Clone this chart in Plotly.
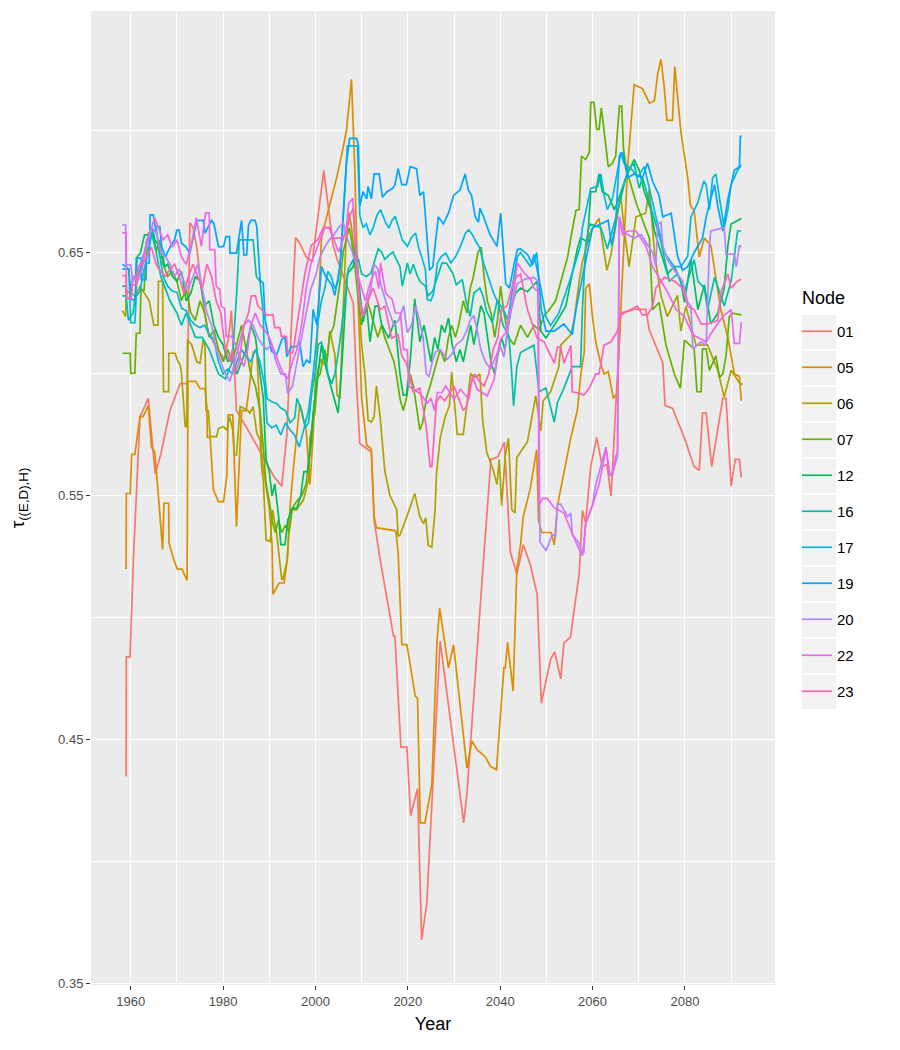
import plotly.graph_objects as go

node_names = ["01", "05", "06", "07", "12", "16", "17", "19", "20", "22", "23"]
node_colors = ["#F8766D", "#DB8E00", "#AEA200", "#64B200", "#00BD5C", "#00C1A7",
               "#00BADE", "#00A6FF", "#B385FF", "#EF67EB", "#FF63B6"]

node_01 = [(1959.0,0.435),(1959.05,0.484),(1959.85,0.484),(1960.6,0.525),(1962.0,0.5825),(1962.6,0.585),(1963.8,0.590),(1965.3,0.559),(1966.5,0.567),(1968.5,0.585),(1970.7,0.596),(1972.3,0.596),(1972.8,0.662),(1973.5,0.660),(1974.3,0.652),(1975.0,0.640),(1976.0,0.625),(1976.8,0.617),(1978.5,0.611),(1980.3,0.606),(1981.2,0.615),(1981.8,0.626),(1982.9,0.585),(1986.0,0.575),(1989.0,0.565),(1991.0,0.558),(1992.7,0.554),(1993.8,0.575),(1994.8,0.620),(1995.7,0.656),(1996.6,0.6535),(1998.0,0.648),(1999.3,0.646),(2000.5,0.665),(2001.8,0.6835),(2003.0,0.665),(2003.8,0.653),(2004.7,0.647),(2006.5,0.638),(2008.2,0.629),(2008.9,0.5957),(2009.6,0.5715),(2012.1,0.568),(2012.7,0.540),(2014.0,0.524),(2016.9,0.4925),(2017.2,0.4925),(2018.5,0.447),(2019.8,0.447),(2020.6,0.419),(2022.1,0.430),(2023.0,0.368),(2024.1,0.383),(2027.0,0.4905),(2032.1,0.416),(2032.8,0.428),(2036.4,0.524),(2038.0,0.565),(2039.5,0.566),(2040.9,0.572),(2042.2,0.527),(2043.6,0.518),(2045.0,0.530),(2046.5,0.522),(2048.0,0.5096),(2048.9,0.465),(2050.9,0.483),(2051.8,0.486),(2053.1,0.475),(2053.8,0.4898),(2055.2,0.492),(2056.0,0.503),(2057.1,0.518),(2057.8,0.544),(2058.5,0.539),(2059.6,0.562),(2060.9,0.574),(2062.1,0.562),(2063.1,0.563),(2064.0,0.550),(2066.1,0.625),(2069.0,0.6265),(2071.5,0.6265),(2072.3,0.618),(2075.2,0.6045),(2075.7,0.587),(2077.3,0.586),(2079.9,0.5737),(2082.0,0.562),(2083.1,0.5605),(2083.8,0.584),(2084.6,0.584),(2085.8,0.562),(2088.2,0.590),(2088.9,0.590),(2090.0,0.554),(2090.9,0.565),(2091.8,0.565),(2092.2,0.5576)]

node_05 = [(1959.0,0.520),(1959.05,0.551),(1959.9,0.551),(1960.2,0.567),(1960.9,0.567),(1962.0,0.5825),(1962.7,0.5825),(1963.8,0.587),(1964.5,0.570),(1965.2,0.568),(1966.0,0.55),(1966.9,0.528),(1967.2,0.547),(1968.2,0.547),(1968.3,0.5306),(1969.3,0.524),(1970.1,0.520),(1971.1,0.520),(1972.2,0.5154),(1972.4,0.597),(1974.1,0.597),(1975.0,0.594),(1976.1,0.594),(1976.5,0.586),(1976.6,0.574),(1977.2,0.574),(1977.9,0.5525),(1979.0,0.5477),(1980.1,0.5477),(1980.8,0.558),(1981.1,0.5832),(1982.1,0.5832),(1982.9,0.5374),(1983.3,0.554),(1984.0,0.585),(1985.0,0.585),(1985.7,0.595),(1986.5,0.609),(1987.3,0.609),(1987.8,0.59),(1988.4,0.565),(1989.2,0.555),(1990.0,0.545),(1990.6,0.530),(1990.8,0.5096),(1992.1,0.5143),(1993.2,0.5143),(1993.9,0.524),(1994.5,0.5456),(1995.2,0.5607),(1996.0,0.578),(1996.6,0.5876),(1998.0,0.5766),(1998.8,0.5547),(1999.5,0.575),(2000.6,0.626),(2001.3,0.6557),(2002.5,0.665),(2003.5,0.672),(2004.6,0.6805),(2005.7,0.69),(2006.7,0.6996),(2007.8,0.7208),(2008.5,0.685),(2009.3,0.6264),(2010.0,0.590),(2011.1,0.5708),(2012.1,0.5693),(2012.7,0.5415),(2013.2,0.537),(2017.4,0.5357),(2017.9,0.527),(2018.7,0.489),(2019.8,0.489),(2021.6,0.468),(2022.1,0.467),(2022.7,0.416),(2023.7,0.416),(2025.2,0.4317),(2026.3,0.4898),(2026.9,0.504),(2028.8,0.4795),(2029.9,0.489),(2032.8,0.4385),(2033.9,0.4495),(2035.0,0.446),(2036.8,0.443),(2037.9,0.439),(2039.2,0.4378),(2040.8,0.4795),(2041.1,0.4795),(2041.6,0.490),(2042.8,0.470),(2043.6,0.5198),(2044.4,0.530),(2045.0,0.5415),(2046.5,0.553),(2047.9,0.569),(2048.3,0.540),(2049.0,0.535),(2051.0,0.535),(2051.7,0.530),(2052.4,0.546),(2053.7,0.559),(2055.3,0.574),(2056.7,0.585),(2057.5,0.6005),(2058.2,0.609),(2058.5,0.635),(2059.3,0.637),(2060.0,0.623),(2060.7,0.613),(2061.8,0.604),(2062.5,0.600),(2063.4,0.601),(2064.5,0.590),(2065.3,0.592),(2066.1,0.626),(2066.8,0.656),(2067.6,0.685),(2069.0,0.7186),(2070.8,0.717),(2072.3,0.711),(2073.4,0.712),(2074.1,0.723),(2074.8,0.729),(2075.5,0.718),(2076.1,0.704),(2077.3,0.704),(2077.8,0.726),(2079.1,0.6996),(2080.6,0.6805),(2081.2,0.669),(2082.0,0.667),(2083.1,0.648),(2084.2,0.6557),(2085.6,0.6527),(2087.8,0.626),(2089.3,0.615),(2090.7,0.600),(2091.8,0.599),(2092.2,0.589)]

node_06 = [(1958.2,0.626),(1958.9,0.6235),(1959.0,0.634),(1960.0,0.633),(1961.0,0.632),(1962.0,0.636),(1963.0,0.633),(1964.0,0.630),(1965.0,0.620),(1965.9,0.620),(1966.0,0.638),(1966.9,0.638),(1967.1,0.5928),(1968.2,0.5928),(1968.25,0.6085),(1969.6,0.6085),(1970.1,0.6057),(1970.7,0.6037),(1971.0,0.6003),(1971.8,0.5784),(1972.1,0.5784),(1972.3,0.614),(1973.2,0.612),(1974.3,0.605),(1975.0,0.6044),(1975.7,0.614),(1976.1,0.611),(1976.3,0.585),(1976.8,0.585),(1977.2,0.5743),(1978.6,0.5743),(1979.0,0.5777),(1980.1,0.5784),(1980.8,0.577),(1981.4,0.5825),(1982.1,0.577),(1982.4,0.5668),(1982.9,0.5668),(1983.7,0.5866),(1985.3,0.5852),(1985.8,0.5839),(1986.5,0.5866),(1987.3,0.5757),(1988.0,0.573),(1988.4,0.5607),(1988.7,0.5566),(1989.3,0.532),(1990.2,0.5313),(1990.7,0.5443),(1991.6,0.5347),(1992.7,0.5156),(1993.0,0.5163),(1993.9,0.524),(1994.5,0.5443),(1995.9,0.5443),(1996.6,0.546),(1997.4,0.5484),(1998.5,0.5566),(1998.8,0.5737),(1999.9,0.584),(2000.6,0.6015),(2001.1,0.606),(2002.4,0.603),(2003.1,0.6176),(2004.2,0.608),(2004.7,0.5913),(2005.3,0.590),(2006.0,0.6264),(2006.7,0.6586),(2007.3,0.666),(2007.8,0.660),(2008.5,0.6483),(2009.3,0.6337),(2010.0,0.6118),(2010.7,0.600),(2011.4,0.581),(2012.1,0.5803),(2012.7,0.5825),(2013.2,0.595),(2014.0,0.5825),(2015.0,0.5605),(2016.1,0.5503),(2017.6,0.5444),(2017.9,0.5335),(2018.3,0.534),(2019.5,0.540),(2020.5,0.546),(2021.5,0.551),(2022.6,0.5415),(2023.4,0.5386),(2023.9,0.541),(2024.4,0.5298),(2025.2,0.529),(2025.9,0.5444),(2026.2,0.559),(2027.0,0.5737),(2028.1,0.5825),(2029.0,0.5869),(2029.5,0.6008),(2030.2,0.5869),(2030.7,0.5752),(2032.0,0.5752),(2032.8,0.5883),(2033.6,0.600),(2034.8,0.5986),(2035.6,0.600),(2036.2,0.581),(2037.1,0.5678),(2038.5,0.5605),(2039.3,0.5547),(2039.8,0.565),(2040.3,0.546),(2041.1,0.5664),(2041.8,0.5737),(2042.5,0.5444),(2043.2,0.543),(2043.6,0.5657),(2044.7,0.5686),(2045.9,0.5722),(2047.7,0.591),(2048.8,0.5766),(2049.3,0.589),(2050.9,0.5927),(2052.7,0.603),(2053.1,0.6118),(2055.3,0.6161),(2056.0,0.622),(2057.1,0.638),(2057.8,0.646),(2059.6,0.6586),(2061.4,0.6637),(2062.5,0.6498),(2063.1,0.6425),(2064.0,0.649),(2065.4,0.6644),(2066.1,0.6732),(2066.8,0.660),(2067.9,0.644),(2069.4,0.6644),(2071.5,0.6659),(2072.3,0.676),(2073.4,0.6498),(2074.8,0.6322),(2076.2,0.6235),(2078.4,0.6322),(2079.1,0.6176),(2080.2,0.6278),(2082.4,0.6118),(2084.9,0.6118),(2087.1,0.6015),(2088.5,0.5905),(2090.0,0.6015),(2091.8,0.5964),(2092.5,0.5957)]

node_07 = [(1958.2,0.6085),(1959.9,0.6085),(1960.0,0.6003),(1960.9,0.6003),(1961.2,0.6167),(1962.0,0.6167),(1962.2,0.6344),(1962.9,0.6344),(1963.1,0.642),(1963.8,0.6577),(1964.9,0.6577),(1965.5,0.650),(1966.2,0.655),(1967.0,0.645),(1968.0,0.640),(1969.0,0.642),(1970.0,0.638),(1971.0,0.630),(1972.0,0.635),(1973.0,0.625),(1974.0,0.622),(1975.0,0.630),(1976.0,0.625),(1977.0,0.615),(1978.0,0.618),(1979.0,0.610),(1980.0,0.605),(1981.0,0.610),(1982.0,0.605),(1983.0,0.612),(1984.0,0.620),(1985.0,0.610),(1986.0,0.600),(1987.0,0.595),(1988.0,0.585),(1988.7,0.570),(1989.3,0.555),(1990.0,0.548),(1990.6,0.540),(1991.3,0.535),(1992.0,0.540),(1992.7,0.535),(1993.5,0.538),(1994.3,0.535),(1995.0,0.545),(1996.0,0.548),(1997.0,0.550),(1998.0,0.555),(1998.8,0.570),(1999.5,0.585),(2000.3,0.598),(2001.0,0.600),(2002.0,0.610),(2002.5,0.605),(2003.0,0.615),(2004.0,0.620),(2004.7,0.630),(2005.5,0.640),(2006.0,0.650),(2006.7,0.655),(2007.3,0.660),(2007.8,0.655),(2008.5,0.645),(2009.3,0.630),(2010.0,0.620),(2010.5,0.625),(2011.2,0.630),(2012.0,0.625),(2012.7,0.620),(2013.5,0.615),(2014.3,0.620),(2015.0,0.615),(2016.0,0.610),(2017.0,0.605),(2017.5,0.600),(2018.3,0.590),(2019.0,0.585),(2019.7,0.590),(2020.5,0.600),(2021.2,0.595),(2022.0,0.585),(2022.6,0.577),(2023.2,0.580),(2024.0,0.590),(2024.8,0.595),(2025.5,0.600),(2026.3,0.605),(2027.0,0.610),(2028.0,0.605),(2028.8,0.615),(2029.5,0.620),(2030.3,0.615),(2031.0,0.620),(2032.0,0.630),(2032.8,0.625),(2033.5,0.635),(2034.2,0.640),(2035.2,0.650),(2035.9,0.652),(2036.5,0.640),(2037.2,0.630),(2038.0,0.625),(2038.8,0.615),(2039.4,0.622),(2040.1,0.636),(2040.8,0.625),(2041.8,0.615),(2043.0,0.612),(2044.4,0.620),(2045.9,0.615),(2047.3,0.620),(2048.4,0.618),(2049.5,0.624),(2050.5,0.626),(2052.0,0.630),(2053.1,0.638),(2054.6,0.648),(2055.5,0.658),(2056.4,0.667),(2057.1,0.6674),(2057.6,0.6893),(2058.5,0.6879),(2059.3,0.6908),(2059.6,0.7113),(2060.3,0.7113),(2060.9,0.7003),(2061.4,0.7003),(2061.9,0.7091),(2062.5,0.6996),(2063.4,0.6849),(2064.3,0.6864),(2065.0,0.6893),(2065.8,0.7098),(2066.3,0.7098),(2066.7,0.6922),(2067.4,0.6835),(2069.4,0.6703),(2071.0,0.662),(2072.3,0.6557),(2073.0,0.6264),(2074.4,0.6293),(2075.9,0.6118),(2077.7,0.600),(2079.0,0.5942),(2079.5,0.6059),(2079.9,0.6139),(2082.0,0.6103),(2082.6,0.5927),(2083.5,0.5927),(2083.8,0.6103),(2084.6,0.6103),(2085.3,0.6015),(2086.7,0.6074),(2087.5,0.5986),(2088.2,0.600),(2088.9,0.6074),(2089.6,0.6235),(2090.3,0.6249),(2092.2,0.6242)]

node_12 = [(1958.2,0.636),(1959.0,0.636),(1959.1,0.631),(1960.1,0.631),(1960.4,0.640),(1961.1,0.640),(1961.4,0.648),(1962.1,0.6496),(1962.5,0.653),(1963.0,0.657),(1964.1,0.657),(1964.3,0.659),(1964.8,0.659),(1965.2,0.655),(1966.0,0.653),(1966.3,0.648),(1967.0,0.648),(1967.3,0.644),(1968.0,0.645),(1969.0,0.640),(1970.0,0.638),(1971.0,0.642),(1972.0,0.630),(1973.0,0.633),(1974.0,0.640),(1975.0,0.638),(1976.0,0.628),(1977.0,0.630),(1978.0,0.620),(1979.0,0.615),(1980.0,0.612),(1981.0,0.605),(1982.0,0.608),(1983.0,0.600),(1984.0,0.605),(1985.0,0.610),(1986.0,0.620),(1987.0,0.615),(1988.0,0.600),(1988.7,0.590),(1989.3,0.565),(1990.0,0.560),(1990.6,0.550),(1991.2,0.555),(1992.0,0.542),(1992.5,0.530),(1993.4,0.530),(1994.0,0.540),(1995.0,0.545),(1996.0,0.545),(1996.8,0.550),(1997.5,0.560),(1998.3,0.560),(1999.0,0.570),(1999.5,0.584),(2000.6,0.600),(2001.3,0.6118),(2002.4,0.6015),(2003.5,0.5942),(2004.9,0.584),(2005.6,0.600),(2006.4,0.6264),(2006.9,0.641),(2008.2,0.644),(2008.7,0.6542),(2009.3,0.6396),(2010.0,0.6264),(2010.3,0.6213),(2011.1,0.6278),(2011.8,0.6132),(2012.9,0.6278),(2013.6,0.6278),(2014.3,0.6205),(2015.8,0.6147),(2017.2,0.622),(2018.3,0.600),(2019.0,0.5913),(2019.7,0.5913),(2020.5,0.605),(2021.5,0.6308),(2022.6,0.6132),(2023.5,0.620),(2024.3,0.612),(2025.0,0.605),(2025.8,0.615),(2026.5,0.610),(2027.3,0.620),(2028.0,0.617),(2028.8,0.623),(2029.6,0.612),(2030.5,0.605),(2031.3,0.610),(2032.0,0.605),(2032.8,0.612),(2033.6,0.620),(2034.3,0.612),(2035.0,0.620),(2035.8,0.628),(2036.5,0.625),(2037.2,0.615),(2038.0,0.605),(2038.8,0.600),(2039.5,0.608),(2040.3,0.615),(2041.0,0.610),(2041.8,0.620),(2042.5,0.628),(2043.3,0.633),(2044.4,0.6352),(2045.9,0.6337),(2048.0,0.638),(2048.8,0.6176),(2049.9,0.6147),(2052.4,0.622),(2054.2,0.6278),(2055.6,0.641),(2056.7,0.6513),(2057.4,0.6557),(2058.9,0.6542),(2059.6,0.6747),(2060.7,0.6747),(2061.4,0.682),(2062.1,0.6747),(2063.4,0.6732),(2064.7,0.6674),(2065.4,0.6703),(2067.2,0.6805),(2068.3,0.685),(2069.0,0.6879),(2070.1,0.6835),(2071.2,0.6747),(2072.6,0.6674),(2073.4,0.6586),(2074.8,0.6498),(2076.2,0.641),(2077.7,0.644),(2079.1,0.638),(2079.9,0.6293),(2081.3,0.6469),(2082.8,0.6264),(2084.2,0.6366),(2085.6,0.6205),(2087.1,0.6249),(2088.5,0.6352),(2089.3,0.6527),(2090.0,0.6615),(2091.4,0.663),(2092.2,0.6637)]

node_16 = [(1958.2,0.632),(1959.0,0.632),(1959.5,0.622),(1960.5,0.625),(1961.5,0.640),(1962.5,0.645),(1963.5,0.655),(1964.5,0.658),(1965.5,0.650),(1966.5,0.640),(1967.5,0.635),(1968.5,0.630),(1970.0,0.625),(1971.0,0.620),(1972.0,0.625),(1973.0,0.620),(1974.0,0.615),(1975.5,0.615),(1977.0,0.610),(1978.0,0.605),(1979.0,0.600),(1980.5,0.598),(1982.0,0.605),(1983.0,0.635),(1983.5,0.655),(1985.5,0.655),(1986.5,0.655),(1987.2,0.640),(1988.0,0.638),(1988.7,0.625),(1989.0,0.600),(1989.5,0.590),(1990.5,0.5886),(1991.5,0.588),(1992.5,0.586),(1993.5,0.585),(1994.5,0.580),(1995.5,0.582),(1996.0,0.590),(1997.0,0.585),(1997.8,0.578),(1998.5,0.580),(1999.2,0.592),(1999.9,0.600),(2000.6,0.612),(2001.3,0.613),(2002.0,0.608),(2002.7,0.600),(2003.5,0.596),(2004.2,0.600),(2004.9,0.608),(2005.6,0.618),(2006.4,0.632),(2007.1,0.643),(2008.2,0.647),(2009.3,0.647),(2010.0,0.641),(2011.0,0.640),(2012.0,0.6413),(2012.9,0.647),(2013.6,0.6513),(2014.3,0.650),(2015.0,0.647),(2016.1,0.649),(2016.8,0.650),(2017.5,0.647),(2018.3,0.644),(2018.8,0.636),(2019.9,0.6455),(2020.5,0.641),(2021.2,0.645),(2021.9,0.641),(2022.6,0.638),(2023.8,0.636),(2024.4,0.632),(2025.4,0.634),(2026.1,0.638),(2027.4,0.6455),(2028.4,0.6454),(2029.8,0.641),(2030.5,0.6366),(2031.8,0.6387),(2032.6,0.630),(2033.5,0.6235),(2034.3,0.6332),(2035.6,0.6352),(2036.3,0.632),(2037.0,0.626),(2038.3,0.621),(2039.4,0.6305),(2040.6,0.620),(2041.9,0.6155),(2042.5,0.600),(2042.9,0.5869),(2043.6,0.603),(2044.4,0.6088),(2047.3,0.6118),(2048.4,0.5927),(2049.9,0.5942),(2051.3,0.584),(2051.7,0.5803),(2052.4,0.5883),(2053.8,0.5942),(2055.6,0.603),(2057.4,0.603),(2057.8,0.6264),(2058.5,0.6527),(2059.3,0.6615),(2061.8,0.660),(2063.2,0.6513),(2065.7,0.6688),(2067.6,0.6835),(2069.0,0.6864),(2070.1,0.6761),(2070.8,0.6805),(2073.0,0.6659),(2074.8,0.6542),(2076.6,0.6381),(2078.4,0.641),(2079.9,0.6337),(2081.3,0.6425),(2082.0,0.6469),(2082.8,0.6381),(2084.2,0.6352),(2084.9,0.6264),(2086.4,0.6396),(2088.5,0.6279),(2090.0,0.6381),(2091.4,0.6586),(2092.2,0.6586)]

node_17 = [(1958.2,0.645),(1959.6,0.643),(1960.0,0.621),(1960.9,0.621),(1961.2,0.632),(1962.0,0.634),(1962.8,0.642),(1963.8,0.650),(1964.5,0.657),(1965.5,0.660),(1966.2,0.650),(1967.0,0.640),(1968.0,0.636),(1969.0,0.634),(1970.0,0.6335),(1971.0,0.627),(1972.0,0.626),(1973.0,0.622),(1974.0,0.620),(1975.0,0.619),(1976.0,0.620),(1977.0,0.616),(1978.0,0.614),(1979.0,0.605),(1980.0,0.600),(1981.0,0.602),(1982.0,0.600),(1983.0,0.605),(1984.0,0.610),(1985.0,0.607),(1986.0,0.605),(1987.0,0.610),(1988.0,0.605),(1989.0,0.595),(1989.5,0.580),(1990.5,0.578),(1991.5,0.579),(1992.5,0.575),(1993.5,0.580),(1994.5,0.577),(1995.5,0.575),(1996.5,0.570),(1997.5,0.577),(1998.5,0.585),(1999.5,0.600),(2000.6,0.622),(2001.3,0.630),(2002.0,0.635),(2002.7,0.642),(2003.4,0.640),(2004.2,0.635),(2004.9,0.638),(2005.6,0.650),(2006.3,0.675),(2006.9,0.6935),(2009.1,0.6935),(2009.3,0.680),(2009.6,0.665),(2010.3,0.660),(2011.0,0.6615),(2011.8,0.657),(2012.5,0.660),(2013.3,0.665),(2014.1,0.6673),(2015.2,0.662),(2015.9,0.6598),(2016.6,0.663),(2017.3,0.6646),(2018.0,0.660),(2018.8,0.655),(2019.9,0.6523),(2020.8,0.656),(2021.7,0.6578),(2022.3,0.652),(2023.0,0.648),(2023.8,0.6428),(2024.2,0.6305),(2025.0,0.630),(2025.6,0.6332),(2026.4,0.6455),(2027.2,0.648),(2028.2,0.6496),(2029.3,0.6455),(2030.3,0.648),(2031.4,0.6523),(2032.5,0.6578),(2033.2,0.6591),(2034.0,0.657),(2034.7,0.6544),(2035.5,0.652),(2036.3,0.646),(2037.0,0.642),(2037.8,0.638),(2038.6,0.633),(2039.3,0.630),(2040.1,0.628),(2040.8,0.626),(2041.6,0.622),(2042.3,0.630),(2043.0,0.640),(2043.7,0.648),(2044.4,0.6498),(2046.6,0.644),(2047.3,0.649),(2048.8,0.6352),(2049.9,0.6235),(2050.9,0.6198),(2052.7,0.625),(2055.3,0.6396),(2057.4,0.6527),(2057.8,0.660),(2059.6,0.6761),(2061.1,0.6769),(2061.8,0.682),(2062.5,0.6732),(2063.2,0.6674),(2064.3,0.6718),(2066.1,0.6908),(2066.8,0.6864),(2068.7,0.6835),(2069.7,0.6805),(2071.2,0.685),(2072.6,0.6732),(2074.1,0.6615),(2075.5,0.6498),(2077.7,0.644),(2079.1,0.644),(2080.6,0.6483),(2081.3,0.6644),(2082.8,0.6703),(2084.1,0.6791),(2084.6,0.6776),(2085.3,0.6674),(2086.0,0.6805),(2086.7,0.682),(2087.5,0.6718),(2088.5,0.660),(2089.3,0.6674),(2090.0,0.6776),(2091.4,0.6835),(2092.2,0.6857)]

node_19 = [(1958.2,0.643),(1959.6,0.643),(1960.1,0.6305),(1961.0,0.6305),(1961.2,0.6475),(1962.2,0.6475),(1962.3,0.6387),(1963.3,0.6387),(1963.4,0.6455),(1964.0,0.6455),(1964.2,0.6652),(1964.9,0.6652),(1965.3,0.6604),(1966.3,0.6604),(1966.7,0.6522),(1967.5,0.648),(1968.5,0.652),(1969.5,0.655),(1970.0,0.659),(1970.5,0.659),(1971.0,0.6536),(1972.0,0.652),(1972.8,0.6495),(1974.3,0.663),(1975.7,0.663),(1976.1,0.6577),(1977.5,0.663),(1978.0,0.6617),(1979.0,0.6522),(1980.1,0.6522),(1980.6,0.6563),(1981.4,0.6563),(1981.5,0.6495),(1982.9,0.6495),(1984.0,0.663),(1984.5,0.6488),(1985.1,0.6488),(1985.5,0.661),(1986.0,0.663),(1986.9,0.663),(1987.3,0.6604),(1988.0,0.6385),(1988.7,0.6372),(1989.1,0.6221),(1990.5,0.6092),(1991.6,0.6078),(1992.7,0.614),(1993.4,0.6153),(1993.8,0.6071),(1994.8,0.6112),(1995.9,0.6112),(1996.6,0.6132),(1997.3,0.603),(1998.1,0.6057),(1998.8,0.6044),(1999.5,0.6264),(2000.3,0.620),(2001.3,0.644),(2002.2,0.640),(2003.5,0.6366),(2004.2,0.6322),(2005.3,0.644),(2006.0,0.665),(2006.7,0.6864),(2007.4,0.6966),(2008.9,0.6966),(2009.3,0.6937),(2009.6,0.6688),(2010.3,0.6747),(2011.1,0.6718),(2011.4,0.6769),(2012.1,0.6718),(2012.7,0.682),(2013.8,0.682),(2014.5,0.6725),(2015.5,0.6747),(2016.7,0.6761),(2017.2,0.6776),(2017.9,0.6842),(2018.7,0.6776),(2019.7,0.6776),(2020.5,0.685),(2021.9,0.6842),(2022.6,0.6732),(2023.4,0.6747),(2024.7,0.6425),(2025.4,0.644),(2026.6,0.6644),(2027.7,0.6615),(2028.8,0.6659),(2029.9,0.6732),(2031.3,0.6754),(2032.4,0.682),(2033.1,0.6754),(2033.8,0.6732),(2034.6,0.6644),(2035.3,0.6622),(2035.6,0.668),(2036.4,0.6644),(2037.8,0.6571),(2039.3,0.6523),(2040.1,0.666),(2041.2,0.637),(2042.0,0.6352),(2042.9,0.644),(2043.7,0.651),(2044.4,0.6513),(2045.9,0.6491),(2047.0,0.6447),(2047.9,0.6498),(2048.9,0.6264),(2049.9,0.6176),(2051.7,0.6176),(2053.8,0.6205),(2055.6,0.6161),(2056.4,0.6264),(2057.8,0.6396),(2060.0,0.660),(2061.8,0.6615),(2063.4,0.663),(2064.1,0.6527),(2065.0,0.6615),(2065.8,0.6893),(2066.5,0.6908),(2067.6,0.6805),(2069.0,0.682),(2070.8,0.6805),(2071.9,0.6864),(2073.0,0.679),(2074.4,0.6732),(2075.2,0.6644),(2077.0,0.6659),(2078.4,0.6483),(2079.5,0.6425),(2080.6,0.644),(2082.0,0.6498),(2083.8,0.6557),(2084.6,0.6644),(2086.4,0.6776),(2087.1,0.6688),(2088.2,0.6586),(2089.3,0.6718),(2090.7,0.6835),(2091.8,0.685),(2092.0,0.6974),(2092.3,0.6974)]

node_20 = [(1958.2,0.661),(1958.9,0.661),(1959.0,0.6447),(1960.0,0.6447),(1960.5,0.638),(1961.5,0.642),(1962.5,0.648),(1963.5,0.652),(1964.5,0.660),(1965.5,0.658),(1966.5,0.650),(1967.5,0.648),(1968.5,0.645),(1969.5,0.640),(1970.5,0.643),(1971.5,0.638),(1972.5,0.635),(1973.5,0.640),(1974.5,0.645),(1975.5,0.635),(1976.5,0.625),(1977.5,0.620),(1978.5,0.610),(1979.5,0.605),(1980.5,0.600),(1981.5,0.597),(1982.5,0.605),(1983.5,0.613),(1984.5,0.620),(1985.5,0.622),(1986.5,0.620),(1987.5,0.615),(1988.5,0.612),(1989.5,0.610),(1990.5,0.612),(1991.5,0.605),(1992.5,0.600),(1993.5,0.600),(1994.0,0.592),(1995.0,0.595),(1996.0,0.605),(1997.0,0.615),(1998.0,0.625),(1999.0,0.635),(2000.0,0.640),(2001.0,0.648),(2002.0,0.652),(2003.0,0.655),(2004.0,0.657),(2005.0,0.660),(2006.0,0.662),(2007.0,0.655),(2008.0,0.650),(2008.8,0.645),(2009.5,0.630),(2010.5,0.625),(2011.2,0.630),(2012.0,0.635),(2012.7,0.645),(2013.5,0.643),(2014.1,0.637),(2015.5,0.628),(2017.0,0.620),(2018.0,0.622),(2019.1,0.628),(2019.9,0.617),(2020.8,0.620),(2021.7,0.628),(2022.5,0.622),(2023.3,0.615),(2024.0,0.600),(2024.6,0.599),(2025.3,0.605),(2026.0,0.609),(2027.0,0.610),(2028.5,0.606),(2029.5,0.608),(2030.5,0.612),(2031.8,0.614),(2032.8,0.618),(2033.5,0.622),(2034.3,0.624),(2035.0,0.618),(2035.8,0.610),(2036.8,0.605),(2037.9,0.602),(2039.0,0.607),(2040.1,0.611),(2040.8,0.607),(2041.9,0.622),(2042.8,0.630),(2043.7,0.637),(2045.5,0.639),(2047.3,0.6396),(2048.2,0.638),(2048.6,0.5313),(2049.9,0.5276),(2051.3,0.5342),(2052.0,0.5335),(2052.4,0.5466),(2053.1,0.5466),(2054.6,0.5415),(2055.3,0.543),(2055.6,0.5342),(2057.1,0.5305),(2057.8,0.5254),(2058.5,0.5386),(2060.0,0.5466),(2060.7,0.5547),(2062.9,0.570),(2063.6,0.559),(2064.3,0.559),(2065.4,0.5664),(2065.8,0.6644),(2066.8,0.6579),(2069.0,0.6557),(2070.5,0.6571),(2071.9,0.6527),(2073.0,0.6498),(2073.7,0.644),(2074.1,0.6615),(2074.8,0.6622),(2075.2,0.6527),(2076.2,0.6469),(2077.7,0.6425),(2079.5,0.6381),(2080.6,0.6293),(2081.3,0.6278),(2081.7,0.6103),(2083.5,0.6132),(2084.6,0.6118),(2085.3,0.6527),(2085.6,0.6586),(2088.5,0.660),(2088.9,0.6491),(2090.7,0.6491),(2091.1,0.644),(2091.8,0.6527),(2092.2,0.652)]

node_22 = [(1958.2,0.6578),(1959.0,0.6578),(1959.1,0.631),(1960.0,0.631),(1960.5,0.640),(1961.5,0.638),(1962.5,0.643),(1963.5,0.655),(1964.5,0.660),(1965.2,0.664),(1966.0,0.660),(1967.0,0.655),(1968.0,0.657),(1969.0,0.652),(1970.0,0.655),(1971.0,0.648),(1972.0,0.645),(1973.0,0.652),(1974.2,0.664),(1975.3,0.6523),(1976.2,0.666),(1977.0,0.666),(1977.1,0.651),(1978.2,0.651),(1978.5,0.636),(1979.3,0.6346),(1979.6,0.6277),(1980.3,0.627),(1980.7,0.6154),(1981.8,0.6154),(1982.9,0.6113),(1983.6,0.6072),(1984.5,0.603),(1985.3,0.610),(1986.0,0.620),(1987.0,0.625),(1988.0,0.620),(1989.0,0.618),(1990.0,0.615),(1991.0,0.610),(1992.0,0.605),(1993.0,0.600),(1994.0,0.598),(1995.0,0.605),(1996.0,0.610),(1997.0,0.620),(1998.0,0.635),(1999.0,0.645),(2000.0,0.650),(2001.0,0.655),(2002.0,0.660),(2003.0,0.660),(2004.0,0.655),(2005.0,0.650),(2006.0,0.655),(2006.7,0.660),(2007.2,0.670),(2008.1,0.672),(2008.5,0.655),(2009.2,0.640),(2010.0,0.635),(2010.8,0.630),(2011.5,0.635),(2012.3,0.640),(2013.0,0.642),(2013.7,0.635),(2014.1,0.6455),(2015.2,0.6332),(2016.6,0.6305),(2017.3,0.625),(2018.4,0.625),(2019.1,0.610),(2019.9,0.610),(2020.2,0.595),(2020.9,0.594),(2022.7,0.592),(2024.2,0.588),(2025.0,0.590),(2025.8,0.585),(2026.4,0.5924),(2027.4,0.5924),(2028.2,0.5951),(2030.0,0.5896),(2031.4,0.5937),(2033.2,0.5896),(2034.0,0.5992),(2035.0,0.5937),(2037.2,0.591),(2038.7,0.5978),(2039.4,0.6087),(2040.1,0.6142),(2041.2,0.6169),(2041.9,0.6251),(2042.6,0.6278),(2043.7,0.6455),(2045.2,0.6414),(2046.6,0.6387),(2047.3,0.6352),(2048.2,0.6337),(2048.4,0.546),(2049.1,0.549),(2050.2,0.549),(2051.7,0.5452),(2053.8,0.543),(2056.0,0.5327),(2057.4,0.5269),(2058.1,0.5269),(2058.5,0.5386),(2060.0,0.546),(2061.4,0.5547),(2062.9,0.5693),(2063.8,0.5583),(2064.3,0.5583),(2065.0,0.5664),(2065.4,0.5679),(2065.8,0.6644),(2066.5,0.6571),(2067.6,0.6586),(2069.4,0.6586),(2071.5,0.6527),(2073.0,0.644),(2074.4,0.6396),(2076.2,0.6337),(2078.1,0.6264),(2079.9,0.6235),(2081.7,0.6161),(2083.1,0.6147),(2084.6,0.6132),(2086.0,0.6176),(2088.2,0.6235),(2090.0,0.6264),(2090.7,0.6125),(2091.8,0.6125),(2092.2,0.6213)]

node_23 = [(1958.2,0.6403),(1959.0,0.6403),(1959.1,0.631),(1960.1,0.631),(1960.3,0.6365),(1961.2,0.6365),(1961.6,0.644),(1962.5,0.645),(1963.5,0.648),(1964.5,0.652),(1965.5,0.645),(1966.5,0.642),(1967.5,0.640),(1968.5,0.643),(1969.5,0.645),(1970.5,0.640),(1971.5,0.633),(1972.5,0.640),(1973.5,0.645),(1974.5,0.640),(1975.5,0.635),(1976.5,0.645),(1977.5,0.640),(1978.5,0.630),(1979.5,0.625),(1980.5,0.610),(1981.5,0.605),(1982.0,0.610),(1982.5,0.600),(1983.5,0.605),(1984.5,0.620),(1985.5,0.625),(1986.1,0.632),(1987.0,0.632),(1987.5,0.628),(1988.5,0.626),(1989.5,0.624),(1990.8,0.6243),(1991.2,0.619),(1992.3,0.619),(1992.6,0.6154),(1993.7,0.6154),(1994.0,0.6086),(1995.1,0.6086),(1995.6,0.615),(1996.6,0.6264),(1997.7,0.641),(1999.1,0.6527),(2000.5,0.655),(2001.7,0.660),(2003.1,0.660),(2003.8,0.6557),(2005.3,0.6557),(2006.7,0.657),(2007.4,0.665),(2008.2,0.668),(2008.5,0.657),(2009.6,0.6293),(2010.3,0.6235),(2011.8,0.6322),(2012.5,0.6352),(2014.0,0.6264),(2015.0,0.6278),(2016.5,0.6147),(2017.9,0.6161),(2018.7,0.6074),(2019.7,0.6044),(2021.2,0.5927),(2022.6,0.5942),(2024.0,0.578),(2024.8,0.562),(2025.2,0.562),(2026.2,0.5884),(2027.0,0.591),(2028.0,0.589),(2029.0,0.592),(2030.0,0.595),(2031.0,0.590),(2032.0,0.585),(2032.8,0.587),(2033.5,0.595),(2034.5,0.600),(2035.5,0.597),(2036.5,0.595),(2037.5,0.600),(2038.5,0.610),(2039.5,0.615),(2040.3,0.6264),(2041.5,0.628),(2042.9,0.6381),(2043.7,0.640),(2044.4,0.641),(2045.9,0.6264),(2048.0,0.6147),(2049.5,0.6132),(2051.7,0.6044),(2052.4,0.611),(2053.1,0.611),(2053.8,0.6044),(2055.3,0.6118),(2055.6,0.5927),(2057.4,0.592),(2058.1,0.5913),(2059.3,0.5942),(2060.7,0.600),(2061.4,0.600),(2062.5,0.6118),(2064.0,0.6132),(2065.4,0.6176),(2066.1,0.6242),(2069.7,0.6278),(2070.8,0.6242),(2071.9,0.6242),(2073.0,0.6278),(2073.7,0.6352),(2075.5,0.6396),(2077.7,0.6381),(2079.5,0.6352),(2080.6,0.6278),(2082.0,0.6264),(2083.5,0.6205),(2084.9,0.6205),(2087.1,0.622),(2087.8,0.6337),(2089.3,0.641),(2090.0,0.6352),(2091.4,0.6381),(2092.2,0.6388)]

all_nodes = [node_01, node_05, node_06, node_07, node_12, node_16, node_17, node_19, node_20, node_22, node_23]

y_tick_vals = [0.35, 0.45, 0.55, 0.65]
y_tick_text = ["0.35", "0.45", "0.55", "0.65"]
x_tick_vals = [1960, 1980, 2000, 2020, 2040, 2060, 2080]
x_tick_text = ["1960", "1980", "2000", "2020", "2040", "2060", "2080"]

# figure geometry (pixels)
W, H = 900, 1050
ML, MR, MT, MB = 91, 125, 11, 65
PW, PH = W - ML - MR, H - MT - MB

def px_to_paper_x(px):
    return (px - ML) / PW

def px_to_paper_y(py):
    return (H - MB - py) / PH

fig = go.Figure()
for name, color, pts in zip(node_names, node_colors, all_nodes):
    fig.add_trace(go.Scatter(
        x=[p[0] for p in pts], y=[p[1] for p in pts],
        mode="lines", name=name, legendgroup=name,
        line=dict(color=color, width=1.7),
    ))

# legend key backgrounds (ggplot-style grey boxes)
key_top0, key_step, key_h = 315, 36, 34
shapes = []
for i in range(len(node_names)):
    top = key_top0 + i * key_step
    shapes.append(dict(
        type="rect", xref="paper", yref="paper", layer="below",
        x0=px_to_paper_x(802), x1=px_to_paper_x(836),
        y0=px_to_paper_y(top + key_h), y1=px_to_paper_y(top),
        fillcolor="#F2F2F2", line=dict(width=0),
    ))

FONT = "Liberation Sans, Arial, sans-serif"
fig.update_layout(
    width=W, height=H,
    margin=dict(l=ML, r=MR, t=MT, b=MB),
    plot_bgcolor="#EBEBEB", paper_bgcolor="white",
    font=dict(family=FONT, size=12, color="#4D4D4D"),
    showlegend=True,
    shapes=shapes,
    annotations=[dict(
        text="Node", xref="paper", yref="paper",
        x=px_to_paper_x(800), y=px_to_paper_y(298),
        xanchor="left", yanchor="middle", showarrow=False,
        font=dict(size=18, color="black", family=FONT),
    )],
    legend=dict(
        x=px_to_paper_x(797), xanchor="left",
        y=px_to_paper_y(315), yanchor="top",
        font=dict(size=15, color="black", family=FONT),
        tracegroupgap=13.5, itemwidth=30, bgcolor="rgba(0,0,0,0)",
    ),
    xaxis=dict(
        range=[1951.4, 2099.5], tickmode="array", tickvals=x_tick_vals, ticktext=x_tick_text,
        ticks="outside", ticklen=4, tickwidth=1, tickcolor="#333333",
        showgrid=True, gridcolor="white", gridwidth=1.2, zeroline=False, showline=False,
        tickfont=dict(size=13, color="#4D4D4D", family=FONT),
        minor=dict(tickmode="linear", tick0=1950, dtick=10, showgrid=True, gridcolor="white", gridwidth=0.6, ticks=""),
        title=dict(text="Year", font=dict(size=18, color="black", family=FONT), standoff=9),
    ),
    yaxis=dict(
        range=[0.3495, 0.7488], tickmode="array", tickvals=y_tick_vals, ticktext=y_tick_text,
        ticks="outside", ticklen=4, tickwidth=1, tickcolor="#333333",
        showgrid=True, gridcolor="white", gridwidth=1.2, zeroline=False, showline=False,
        tickfont=dict(size=13, color="#4D4D4D", family=FONT),
        minor=dict(tickmode="linear", tick0=0.35, dtick=0.05, showgrid=True, gridcolor="white", gridwidth=0.6, ticks=""),
        title=dict(text="τ<sub>((E,D),H)</sub>", font=dict(size=19, color="black", family=FONT), standoff=28),
    ),
)

fig.write_html("out.html")
